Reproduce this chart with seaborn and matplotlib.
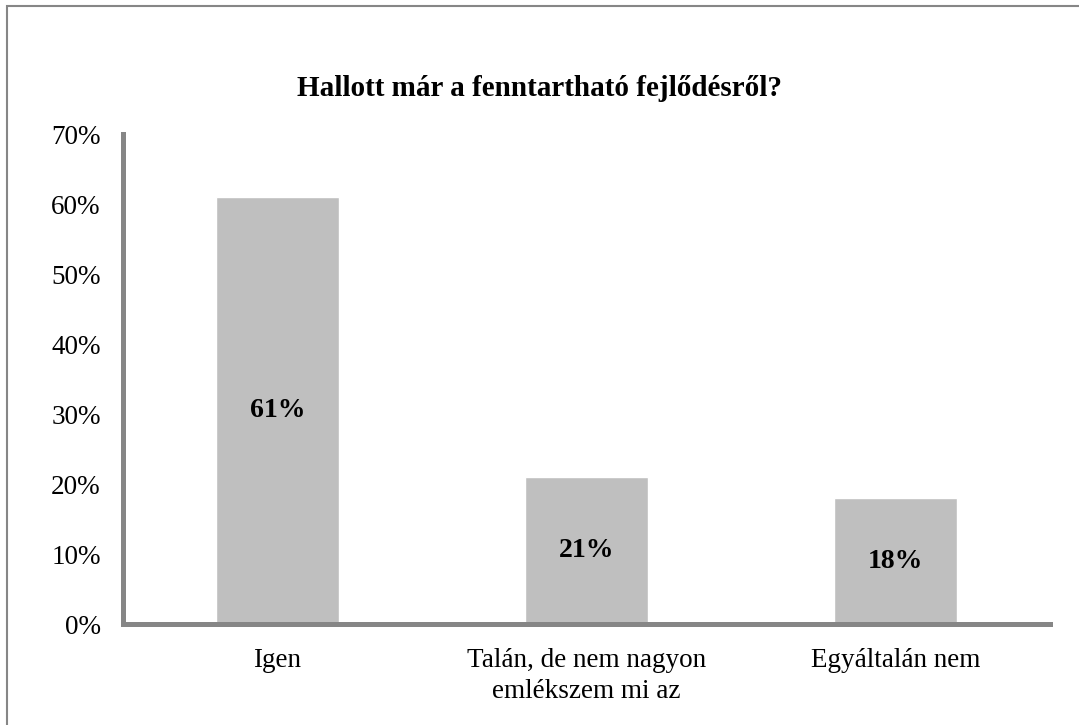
import numpy as np
import pandas as pd
import matplotlib
matplotlib.use('Agg')
import matplotlib.pyplot as plt
import matplotlib.patches as mpatches
from matplotlib.ticker import PercentFormatter
import seaborn as sns

# data
categories = ['Igen', 'Talán, de nem nagyon\nemlékszem mi az', 'Egyáltalán nem']
shares = [0.61, 0.21, 0.18]
value_labels = ['61%', '21%', '18%']
title = 'Hallott már a fenntartható fejlődésről?'

df = pd.DataFrame({'valasz': categories, 'arany': shares})

sns.set_style('white')
plt.rcParams['font.family'] = ['Liberation Serif', 'DejaVu Serif']
plt.rcParams['text.color'] = 'black'

fig = plt.figure(figsize=(10.79, 7.25), dpi=100)
ax = fig.add_axes([0.114, 0.139, 0.859, 0.676])

sns.barplot(x='valasz', y='arany', data=df, ax=ax, color='#BFBFBF',
            width=0.4, saturation=1)

ax.set_ylim(0, 0.7)
ax.set_xlim(-0.5, 2.5)
ax.set_yticks(np.arange(0, 0.71, 0.1))
ax.yaxis.set_major_formatter(PercentFormatter(1.0, decimals=0))
ax.set_xlabel('')
ax.set_ylabel('')

ax.tick_params(axis='y', length=0, pad=16, labelsize=19.5, colors='black')
ax.tick_params(axis='x', length=0, pad=17, labelsize=19.5, colors='black')
for lbl in ax.get_xticklabels():
    lbl.set_linespacing(1.35)

for side in ['top', 'right']:
    ax.spines[side].set_visible(False)
for side in ['left', 'bottom']:
    ax.spines[side].set_color('#868686')
    ax.spines[side].set_linewidth(3.6)

ax.bar_label(ax.containers[0], labels=value_labels, label_type='center',
             fontsize=20, fontweight='bold', color='black')

fig.text(0.5, 1 - 88 / 725, title, ha='center', va='center',
         fontsize=21, fontweight='bold', color='black')

# grey frame round the chart area
frame = mpatches.Rectangle((6.5 / 1079, -0.05), 1.2, 1 - 5.5 / 725 + 0.05,
                           transform=fig.transFigure, fill=False,
                           edgecolor='#868686', linewidth=1.5)
fig.patches.append(frame)

fig.savefig('out.png', dpi=100)
